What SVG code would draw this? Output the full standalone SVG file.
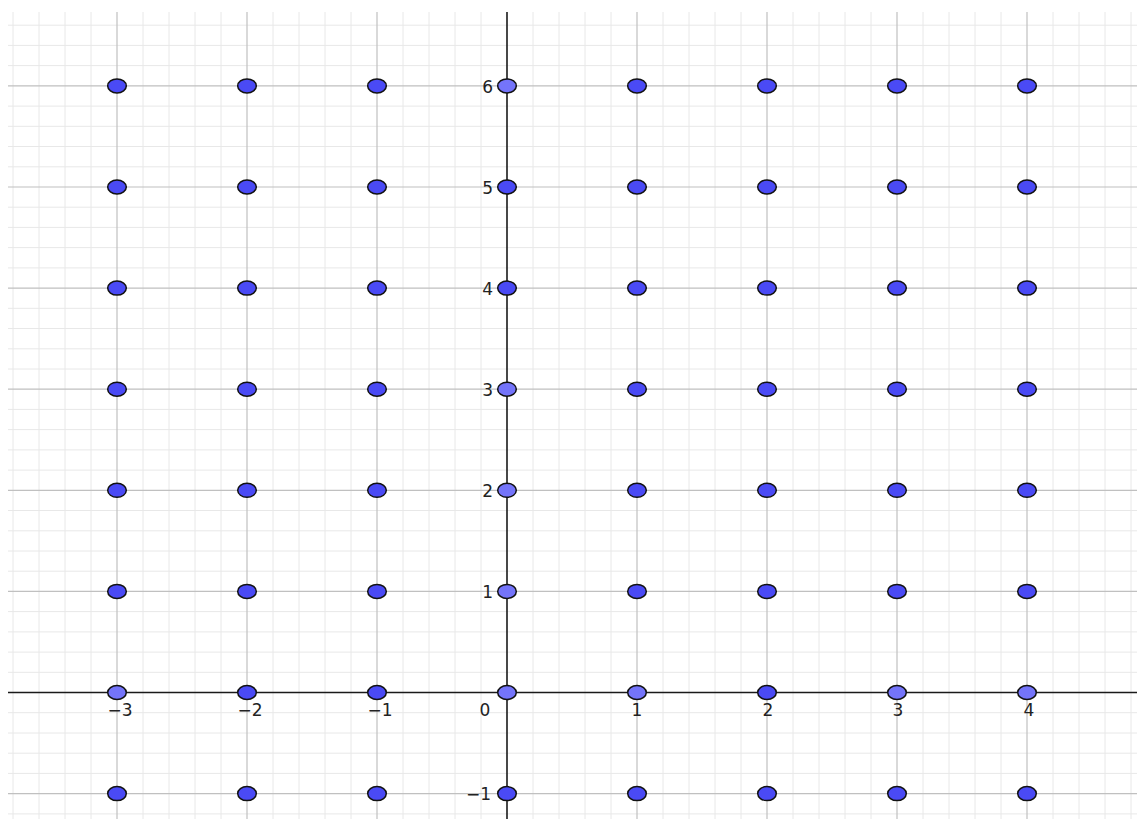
<svg xmlns="http://www.w3.org/2000/svg" width="1137" height="819" viewBox="0 0 1137 819">
<style>
.minor{stroke:#e8e8e8;stroke-width:1}
.major{stroke:#c0c0c0;stroke-width:1.2}
.axis{stroke:#1a1a1a;stroke-width:1.6}
.pt{stroke:#111;stroke-width:1.5}
.d{fill:#4a4af5}
.l{fill:#7474fa}
.lbl{font-family:"DejaVu Sans",sans-serif;font-size:17px;fill:#222}
.xl{text-anchor:middle}
.yl{text-anchor:end}
</style>
<rect x="0" y="0" width="1137" height="819" fill="#fff"/>
<g id="grid-minor">
<path class="minor" d="M13 12V819M39 12V819M65 12V819M91 12V819M143 12V819M169 12V819M195 12V819M221 12V819M273 12V819M299 12V819M325 12V819M351 12V819M403 12V819M429 12V819M455 12V819M481 12V819M533 12V819M559 12V819M585 12V819M611 12V819M663 12V819M689 12V819M715 12V819M741 12V819M793 12V819M819 12V819M845 12V819M871 12V819M923 12V819M949 12V819M975 12V819M1001 12V819M1053 12V819M1079 12V819M1105 12V819M1131 12V819"/>
<path class="minor" d="M8 25.2H1137M8 45.4H1137M8 65.6H1137M8 106.1H1137M8 126.3H1137M8 146.5H1137M8 166.8H1137M8 207.2H1137M8 227.4H1137M8 247.6H1137M8 267.9H1137M8 308.3H1137M8 328.5H1137M8 348.8H1137M8 369.0H1137M8 409.4H1137M8 429.6H1137M8 449.9H1137M8 470.1H1137M8 510.5H1137M8 530.8H1137M8 551.0H1137M8 571.2H1137M8 611.6H1137M8 631.9H1137M8 652.1H1137M8 672.3H1137M8 712.7H1137M8 733.0H1137M8 753.2H1137M8 773.4H1137M8 813.9H1137"/>
</g>
<g id="grid-major">
<path class="major" d="M117 12V819M247 12V819M377 12V819M637 12V819M767 12V819M897 12V819M1027 12V819"/>
<path class="major" d="M8 85.9H1137M8 187H1137M8 288.1H1137M8 389.2H1137M8 490.3H1137M8 591.4H1137M8 793.6H1137"/>
</g>
<g id="axes">
<path class="axis" d="M8 692.5H1137"/>
<path class="axis" d="M507 12V819"/>
</g>
<g id="labels">
<text class="lbl xl" x="120" y="716">−3</text>
<text class="lbl xl" x="250" y="716">−2</text>
<text class="lbl xl" x="380" y="716">−1</text>
<text class="lbl xl" x="485" y="716">0</text>
<text class="lbl xl" x="637" y="716">1</text>
<text class="lbl xl" x="768" y="716">2</text>
<text class="lbl xl" x="898" y="716">3</text>
<text class="lbl xl" x="1029" y="716">4</text>
<text class="lbl yl" x="493" y="92.5">6</text>
<text class="lbl yl" x="493" y="193.5">5</text>
<text class="lbl yl" x="493" y="294.5">4</text>
<text class="lbl yl" x="493" y="395.5">3</text>
<text class="lbl yl" x="493" y="496.5">2</text>
<text class="lbl yl" x="493" y="597.5">1</text>
<text class="lbl yl" x="491" y="800">−1</text>
</g>
<g id="connectors"></g>
<g id="p-3_6"><ellipse class="pt d" cx="117" cy="85.9" rx="9.3" ry="7"/></g>
<g id="p-2_6"><ellipse class="pt d" cx="247" cy="85.9" rx="9.3" ry="7"/></g>
<g id="p-1_6"><ellipse class="pt d" cx="377" cy="85.9" rx="9.3" ry="7"/></g>
<g id="p0_6"><ellipse class="pt l" cx="507" cy="85.9" rx="9.3" ry="7"/></g>
<g id="p1_6"><ellipse class="pt d" cx="637" cy="85.9" rx="9.3" ry="7"/></g>
<g id="p2_6"><ellipse class="pt d" cx="767" cy="85.9" rx="9.3" ry="7"/></g>
<g id="p3_6"><ellipse class="pt d" cx="897" cy="85.9" rx="9.3" ry="7"/></g>
<g id="p4_6"><ellipse class="pt d" cx="1027" cy="85.9" rx="9.3" ry="7"/></g>
<g id="p-3_5"><ellipse class="pt d" cx="117" cy="187" rx="9.3" ry="7"/></g>
<g id="p-2_5"><ellipse class="pt d" cx="247" cy="187" rx="9.3" ry="7"/></g>
<g id="p-1_5"><ellipse class="pt d" cx="377" cy="187" rx="9.3" ry="7"/></g>
<g id="p0_5"><ellipse class="pt d" cx="507" cy="187" rx="9.3" ry="7"/></g>
<g id="p1_5"><ellipse class="pt d" cx="637" cy="187" rx="9.3" ry="7"/></g>
<g id="p2_5"><ellipse class="pt d" cx="767" cy="187" rx="9.3" ry="7"/></g>
<g id="p3_5"><ellipse class="pt d" cx="897" cy="187" rx="9.3" ry="7"/></g>
<g id="p4_5"><ellipse class="pt d" cx="1027" cy="187" rx="9.3" ry="7"/></g>
<g id="p-3_4"><ellipse class="pt d" cx="117" cy="288.1" rx="9.3" ry="7"/></g>
<g id="p-2_4"><ellipse class="pt d" cx="247" cy="288.1" rx="9.3" ry="7"/></g>
<g id="p-1_4"><ellipse class="pt d" cx="377" cy="288.1" rx="9.3" ry="7"/></g>
<g id="p0_4"><ellipse class="pt d" cx="507" cy="288.1" rx="9.3" ry="7"/></g>
<g id="p1_4"><ellipse class="pt d" cx="637" cy="288.1" rx="9.3" ry="7"/></g>
<g id="p2_4"><ellipse class="pt d" cx="767" cy="288.1" rx="9.3" ry="7"/></g>
<g id="p3_4"><ellipse class="pt d" cx="897" cy="288.1" rx="9.3" ry="7"/></g>
<g id="p4_4"><ellipse class="pt d" cx="1027" cy="288.1" rx="9.3" ry="7"/></g>
<g id="p-3_3"><ellipse class="pt d" cx="117" cy="389.2" rx="9.3" ry="7"/></g>
<g id="p-2_3"><ellipse class="pt d" cx="247" cy="389.2" rx="9.3" ry="7"/></g>
<g id="p-1_3"><ellipse class="pt d" cx="377" cy="389.2" rx="9.3" ry="7"/></g>
<g id="p0_3"><ellipse class="pt l" cx="507" cy="389.2" rx="9.3" ry="7"/></g>
<g id="p1_3"><ellipse class="pt d" cx="637" cy="389.2" rx="9.3" ry="7"/></g>
<g id="p2_3"><ellipse class="pt d" cx="767" cy="389.2" rx="9.3" ry="7"/></g>
<g id="p3_3"><ellipse class="pt d" cx="897" cy="389.2" rx="9.3" ry="7"/></g>
<g id="p4_3"><ellipse class="pt d" cx="1027" cy="389.2" rx="9.3" ry="7"/></g>
<g id="p-3_2"><ellipse class="pt d" cx="117" cy="490.3" rx="9.3" ry="7"/></g>
<g id="p-2_2"><ellipse class="pt d" cx="247" cy="490.3" rx="9.3" ry="7"/></g>
<g id="p-1_2"><ellipse class="pt d" cx="377" cy="490.3" rx="9.3" ry="7"/></g>
<g id="p0_2"><ellipse class="pt l" cx="507" cy="490.3" rx="9.3" ry="7"/></g>
<g id="p1_2"><ellipse class="pt d" cx="637" cy="490.3" rx="9.3" ry="7"/></g>
<g id="p2_2"><ellipse class="pt d" cx="767" cy="490.3" rx="9.3" ry="7"/></g>
<g id="p3_2"><ellipse class="pt d" cx="897" cy="490.3" rx="9.3" ry="7"/></g>
<g id="p4_2"><ellipse class="pt d" cx="1027" cy="490.3" rx="9.3" ry="7"/></g>
<g id="p-3_1"><ellipse class="pt d" cx="117" cy="591.4" rx="9.3" ry="7"/></g>
<g id="p-2_1"><ellipse class="pt d" cx="247" cy="591.4" rx="9.3" ry="7"/></g>
<g id="p-1_1"><ellipse class="pt d" cx="377" cy="591.4" rx="9.3" ry="7"/></g>
<g id="p0_1"><ellipse class="pt l" cx="507" cy="591.4" rx="9.3" ry="7"/></g>
<g id="p1_1"><ellipse class="pt d" cx="637" cy="591.4" rx="9.3" ry="7"/></g>
<g id="p2_1"><ellipse class="pt d" cx="767" cy="591.4" rx="9.3" ry="7"/></g>
<g id="p3_1"><ellipse class="pt d" cx="897" cy="591.4" rx="9.3" ry="7"/></g>
<g id="p4_1"><ellipse class="pt d" cx="1027" cy="591.4" rx="9.3" ry="7"/></g>
<g id="p-3_0"><ellipse class="pt l" cx="117" cy="692.5" rx="9.3" ry="7"/></g>
<g id="p-2_0"><ellipse class="pt d" cx="247" cy="692.5" rx="9.3" ry="7"/></g>
<g id="p-1_0"><ellipse class="pt d" cx="377" cy="692.5" rx="9.3" ry="7"/></g>
<g id="p0_0"><ellipse class="pt l" cx="507" cy="692.5" rx="9.3" ry="7"/></g>
<g id="p1_0"><ellipse class="pt l" cx="637" cy="692.5" rx="9.3" ry="7"/></g>
<g id="p2_0"><ellipse class="pt d" cx="767" cy="692.5" rx="9.3" ry="7"/></g>
<g id="p3_0"><ellipse class="pt l" cx="897" cy="692.5" rx="9.3" ry="7"/></g>
<g id="p4_0"><ellipse class="pt l" cx="1027" cy="692.5" rx="9.3" ry="7"/></g>
<g id="p-3_-1"><ellipse class="pt d" cx="117" cy="793.6" rx="9.3" ry="7"/></g>
<g id="p-2_-1"><ellipse class="pt d" cx="247" cy="793.6" rx="9.3" ry="7"/></g>
<g id="p-1_-1"><ellipse class="pt d" cx="377" cy="793.6" rx="9.3" ry="7"/></g>
<g id="p0_-1"><ellipse class="pt d" cx="507" cy="793.6" rx="9.3" ry="7"/></g>
<g id="p1_-1"><ellipse class="pt d" cx="637" cy="793.6" rx="9.3" ry="7"/></g>
<g id="p2_-1"><ellipse class="pt d" cx="767" cy="793.6" rx="9.3" ry="7"/></g>
<g id="p3_-1"><ellipse class="pt d" cx="897" cy="793.6" rx="9.3" ry="7"/></g>
<g id="p4_-1"><ellipse class="pt d" cx="1027" cy="793.6" rx="9.3" ry="7"/></g>
</svg>
